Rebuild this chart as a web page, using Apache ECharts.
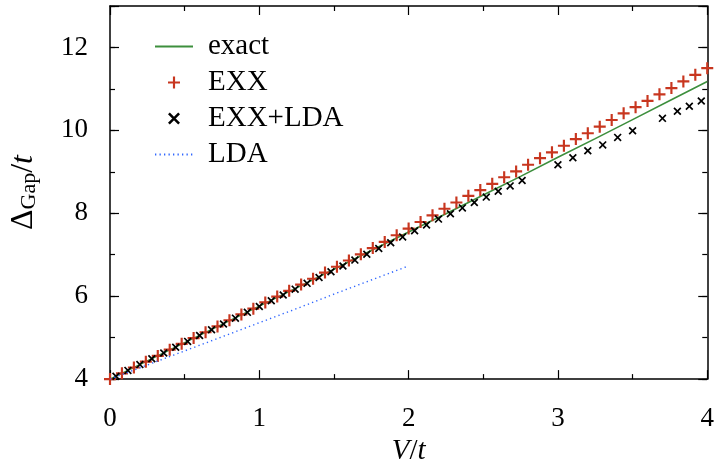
<!DOCTYPE html>
<html><head><meta charset="utf-8">
<script src="https://cdn.jsdelivr.net/npm/echarts@6/dist/echarts.min.js"></script>
<style>html,body{margin:0;padding:0;background:#fff}#c{width:717px;height:471px}</style>
</head><body><div id="c"></div>
<script>
var exactV = [0,0.25,0.5,0.75,1,1.25,1.5,1.75,2,2.25,2.5,2.75,3,3.25,3.5,3.75,4];
var exactY = [4.00,4.44,4.88,5.32,5.76,6.20,6.65,7.10,7.55,7.99,8.44,8.89,9.35,9.80,10.26,10.72,11.18];

var exxV = [0,0.08,0.16,0.24,0.32,0.40,0.48,0.56,0.64,0.72,0.80,0.88,0.96,1.04,1.12,1.20,1.28,1.36,1.44,1.52,1.60,1.68,1.76,1.84,1.92,2.00,2.08,2.16,2.24,2.32,2.40,2.48,2.56,2.64,2.72,2.80,2.88,2.96,3.04,3.12,3.20,3.28,3.36,3.44,3.52,3.60,3.68,3.76,3.84,3.92,4.00];
var exxY = [4.00,4.14,4.28,4.42,4.56,4.71,4.85,4.99,5.13,5.27,5.42,5.56,5.70,5.85,5.99,6.13,6.28,6.42,6.57,6.71,6.86,7.01,7.16,7.31,7.47,7.63,7.79,7.95,8.11,8.26,8.42,8.56,8.71,8.87,9.01,9.17,9.33,9.47,9.63,9.79,9.93,10.09,10.25,10.41,10.56,10.71,10.87,11.02,11.18,11.34,11.50];

var exxLdaV = [0.04,0.12,0.20,0.28,0.36,0.44,0.52,0.60,0.68,0.76,0.84,0.92,1.00,1.08,1.16,1.24,1.32,1.40,1.48,1.56,1.64,1.72,1.80,1.88,1.96,2.04,2.12,2.20,2.28,2.36,2.44,2.52,2.60,2.68,2.76,3.00,3.10,3.20,3.30,3.40,3.50,3.70,3.80,3.88,3.96];
var exxLdaY = [4.07,4.21,4.35,4.49,4.63,4.77,4.91,5.05,5.19,5.33,5.47,5.61,5.75,5.89,6.03,6.17,6.31,6.45,6.59,6.73,6.87,7.01,7.15,7.29,7.43,7.58,7.72,7.86,7.99,8.13,8.26,8.39,8.53,8.66,8.79,9.17,9.34,9.51,9.65,9.83,9.99,10.29,10.46,10.58,10.71];

var ldaV = [0,0.25,0.5,0.75,1,1.25,1.5,1.75,2];
var ldaY = [4.00,4.34,4.68,5.02,5.36,5.70,6.05,6.39,6.73];

var xTicks = [0,1,2,3,4];
var yTicks = [4,6,8,10,12];

function pairs(xs, ys){ return xs.map(function(x,i){return [x, ys[i]];}); }

var FONT = '"Liberation Serif", "DejaVu Serif", serif';
var PLUS = 'path://M0,4.1H10V5.9H0Z M4.1,0H5.9V10H4.1Z';
var CROSS = 'path://M0,1.5L1.5,0L10,8.5L8.5,10Z M8.5,0L10,1.5L1.5,10L0,8.5Z';

var axLine = {show:true, lineStyle:{color:'#000', width:1.5}};
function xAx(pos, labels){
  return {type:'value', min:0, max:4, interval:1, position:pos,
    axisLine:axLine,
    axisTick:{show:true, inside:true, length:9, lineStyle:{color:'#000', width:1.2}},
    minorTick:{show:true, splitNumber:2, length:5, lineStyle:{color:'#000', width:1.2}},
    splitLine:{show:false}, minorSplitLine:{show:false},
    axisLabel:{show:labels, margin:26, fontFamily:FONT, fontSize:27, color:'#000',
      formatter:function(v){return xTicks.indexOf(v)>=0 ? String(v) : '';}},
    name: labels ? '{i|V}{n|/}{i|t}' : '', nameLocation:'middle', nameGap:35,
    nameTextStyle:{rich:{i:{fontFamily:FONT,fontSize:29,fontStyle:'italic',color:'#000'},n:{fontFamily:FONT,fontSize:29,color:'#000'}}}
  };
}
function yAx(pos, labels, minor){
  return {type:'value', min:4, max:13, interval: minor?1:2, position:pos,
    axisLine: minor ? {show:false} : axLine,
    axisTick:{show:true, inside:true, length: minor?5:9, lineStyle:{color:'#000', width:1.2}},
    splitLine:{show:false},
    axisLabel:{show:labels, margin:22, fontFamily:FONT, fontSize:27, color:'#000',
      formatter:function(v){return yTicks.indexOf(v)>=0 ? String(v) : '';}},
    name: labels ? '{d|Δ}{s|Gap}{n|/}{i|t}' : '', nameLocation:'middle', nameGap:70, nameRotate:90,
    nameTextStyle:{rich:{
      d:{fontFamily:FONT,fontSize:32,color:'#000'},
      s:{fontFamily:FONT,fontSize:22,color:'#000',verticalAlign:'bottom',padding:[9,0,0,0]},
      n:{fontFamily:FONT,fontSize:32,color:'#000'},
      i:{fontFamily:FONT,fontSize:32,fontStyle:'italic',color:'#000'}}}
  };
}

var chart = echarts.init(document.getElementById('c'), null, {renderer:'canvas'});
chart.setOption({
  animation:false,
  backgroundColor:'#fff',
  grid:{left:109, right:4, top:6, bottom:90},
  legend:{orient:'vertical', left:154, top:32, padding:0, itemWidth:38, itemHeight:12, itemGap:7,
    textStyle:{fontFamily:FONT, fontSize:29, color:'#000', padding:[0,0,0,10]},
    data:[{name:'exact', itemStyle:{opacity:0}}, 'EXX', 'EXX+LDA', {name:'LDA', itemStyle:{opacity:0}}]},
  xAxis:[xAx('bottom', true), xAx('top', false)],
  yAxis:[yAx('left', true, false), yAx('left', false, true), yAx('right', false, false), yAx('right', false, true)],
  series:[
    {name:'exact', type:'line', data:pairs(exactV, exactY), showSymbol:false, symbol:'none', smooth:false,
      lineStyle:{color:'#3d8f3d', width:1.6}, itemStyle:{color:'#3d8f3d'}, z:2},
    {name:'EXX', type:'scatter', data:pairs(exxV, exxY), symbol:PLUS, symbolSize:12,
      itemStyle:{color:'#c8361f', opacity:1}, z:3},
    {name:'EXX+LDA', type:'scatter', data:pairs(exxLdaV, exxLdaY), symbol:CROSS, symbolSize:8,
      itemStyle:{color:'#000', opacity:1}, z:4},
    {name:'LDA', type:'line', data:pairs(ldaV, ldaY), showSymbol:false, symbol:'none',
      lineStyle:{color:'#2f66ff', width:1.4, type:[1.3,3.2]}, itemStyle:{color:'#2f66ff'}, z:5}
  ]
});
</script></body></html>
